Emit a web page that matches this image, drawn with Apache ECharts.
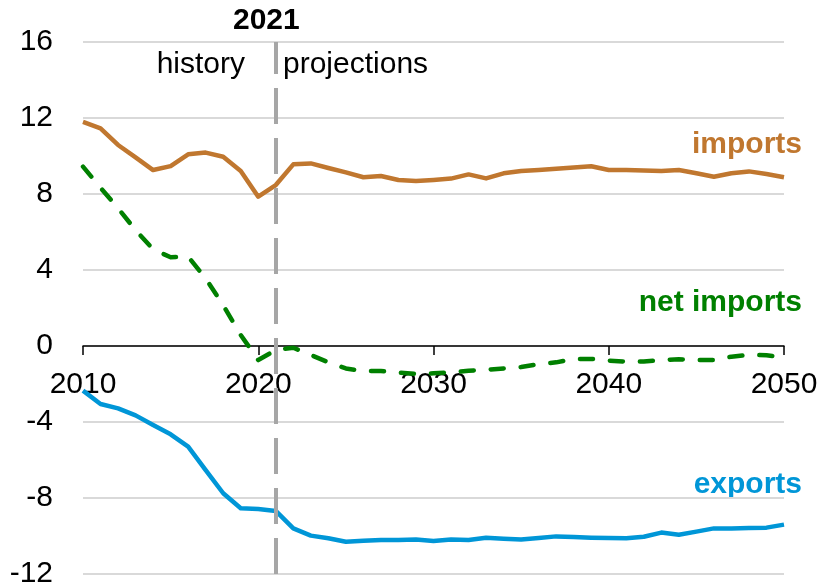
<!DOCTYPE html>
<html>
<head>
<meta charset="utf-8">
<script src="https://cdn.jsdelivr.net/npm/echarts@6/dist/echarts.min.js"></script>
<style>
  html, body { margin: 0; padding: 0; background: #fff; }
</style>
</head>
<body>
<div id="chart" style="width:822px;height:585px;"></div>
<script>
// years 2010 - 2050
const years = []
for (let y = 2010; y <= 2050; y++) years.push(y)

const imports = [11.79, 11.46, 10.58, 9.93, 9.26, 9.47, 10.09, 10.18, 9.96, 9.21,
  7.86, 8.47, 9.56, 9.61, 9.37, 9.14, 8.88, 8.95, 8.74, 8.68,
  8.74, 8.81, 9.03, 8.82, 9.09, 9.21, 9.26, 9.33, 9.40, 9.46,
  9.26, 9.26, 9.24, 9.21, 9.26, 9.09, 8.91, 9.09, 9.19, 9.05, 8.88]

const netImports = [9.44, 8.33, 7.25, 6.10, 5.09, 4.67, 4.70, 3.56, 2.14, 0.58,
  -0.74, -0.21, -0.09, -0.47, -0.86, -1.18, -1.32, -1.32, -1.40, -1.47,
  -1.44, -1.39, -1.30, -1.25, -1.18, -1.11, -0.96, -0.86, -0.68, -0.68,
  -0.77, -0.82, -0.82, -0.74, -0.70, -0.74, -0.74, -0.56, -0.46, -0.49, -0.60]

const exportsVal = [-2.35, -3.05, -3.28, -3.65, -4.16, -4.65, -5.30, -6.53, -7.75, -8.54,
  -8.58, -8.68, -9.60, -9.98, -10.12, -10.30, -10.25, -10.21, -10.21, -10.19,
  -10.26, -10.18, -10.21, -10.09, -10.14, -10.18, -10.11, -10.02, -10.05, -10.09,
  -10.11, -10.12, -10.04, -9.82, -9.93, -9.77, -9.60, -9.60, -9.58, -9.56, -9.40]

const splitYear = 2021
const yMin = -12
const yMax = 16

const font = '"Liberation Sans", Arial, sans-serif'
const pair = arr => years.map((y, i) => [y, arr[i]])

// plot area
const gridTop = 42
const gridBottom = 11
const plotHeight = 585 - gridTop - gridBottom
// year labels sit under the zero line, not at the bottom of the plot
const zeroOffset = -plotHeight * (0 - yMin) / (yMax - yMin)

const lineSeries = (name, data, color, dashed) => ({
  name: name,
  type: 'line',
  data: pair(data),
  symbol: 'none',
  smooth: false,
  lineStyle: {
    color: color,
    width: 4.5,
    type: dashed ? [13, 17] : 'solid',
    cap: dashed ? 'round' : 'butt',
    join: 'round'
  },
  silent: true,
  z: 2
})

const option = {
  animation: false,
  grid: { left: 83, right: 38, top: gridTop, bottom: gridBottom, containLabel: false, outerBoundsMode: 'none' },
  xAxis: [
    {
      type: 'value',
      min: 2010,
      max: 2050,
      interval: 10,
      axisLine: { show: true, onZero: true, lineStyle: { color: '#000', width: 1.5 } },
      axisTick: { show: true, length: 9, lineStyle: { color: '#000', width: 1.5 } },
      axisLabel: { show: false },
      splitLine: { show: false }
    },
    {
      type: 'value',
      position: 'bottom',
      offset: zeroOffset,
      min: 2010,
      max: 2050,
      interval: 10,
      axisLine: { show: false, onZero: false },
      axisTick: { show: false },
      axisLabel: { color: '#000', fontSize: 30, fontFamily: font, margin: 24, formatter: v => String(v) },
      splitLine: { show: false }
    }
  ],
  yAxis: {
    type: 'value',
    min: yMin,
    max: yMax,
    interval: 4,
    axisLine: { show: false },
    axisTick: { show: false },
    axisLabel: { color: '#000', fontSize: 30, fontFamily: font, margin: 30 },
    splitLine: { show: true, lineStyle: { color: '#d9d9d9', width: 2 } }
  },
  series: [
    lineSeries('imports', imports, '#c0772f', false),
    lineSeries('net imports', netImports, '#008000', true),
    lineSeries('exports', exportsVal, '#0096d7', false),
    {
      type: 'line',
      data: [],
      z: 5,
      markLine: {
        silent: true,
        symbol: ['none', 'none'],
        label: { show: false },
        lineStyle: { color: '#a6a6a6', width: 4, type: [36, 14] },
        data: [{ xAxis: splitYear }]
      }
    }
  ],
  graphic: [
    { type: 'text', left: 233, top: 6, style: { text: '2021', fontSize: 30, fontWeight: 'bold', fontFamily: font, fill: '#000' } },
    { type: 'text', right: 577, top: 50, style: { text: 'history', fontSize: 30, fontFamily: font, fill: '#000' } },
    { type: 'text', left: 283, top: 50, style: { text: 'projections', fontSize: 30, fontFamily: font, fill: '#000' } },
    { type: 'text', right: 20, top: 130, style: { text: 'imports', fontSize: 30, fontWeight: 'bold', fontFamily: font, fill: '#c0772f' } },
    { type: 'text', right: 20, top: 288, style: { text: 'net imports', fontSize: 30, fontWeight: 'bold', fontFamily: font, fill: '#008000' } },
    { type: 'text', right: 20, top: 470, style: { text: 'exports', fontSize: 30, fontWeight: 'bold', fontFamily: font, fill: '#0096d7' } }
  ]
}

const myChart = echarts.init(document.getElementById('chart'), null, { renderer: 'canvas' })
myChart.setOption(option)
</script>
</body>
</html>
